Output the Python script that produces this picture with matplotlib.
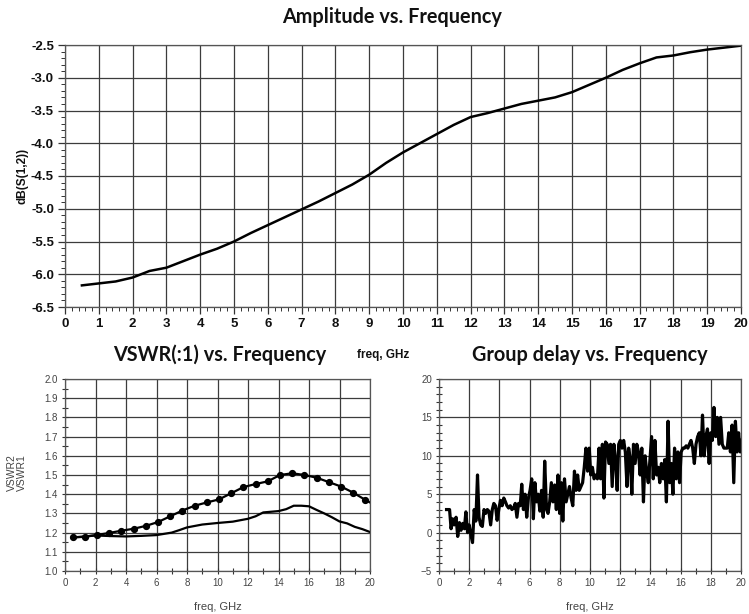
import matplotlib
matplotlib.use('Agg')
import matplotlib.pyplot as plt
from matplotlib.ticker import MultipleLocator

# ---------------- data ----------------
amp_freq = [0.5, 1.0, 1.5, 2.0, 2.5, 3.0, 3.5, 4.0, 4.5, 5.0, 5.5, 6.0, 6.5, 7.0, 7.5,
            8.0, 8.5, 9.0, 9.5, 10.0, 10.5, 11.0, 11.5, 12.0, 12.5, 13.0, 13.5, 14.0,
            14.5, 15.0, 15.5, 16.0, 16.5, 17.0, 17.5, 18.0, 18.5, 19.0, 19.5, 20.0]
amp_db = [-6.17, -6.14, -6.11, -6.05, -5.95, -5.90, -5.80, -5.70, -5.61, -5.50, -5.37,
          -5.25, -5.13, -5.01, -4.89, -4.76, -4.63, -4.48, -4.30, -4.14, -4.00, -3.86,
          -3.72, -3.60, -3.54, -3.47, -3.40, -3.35, -3.30, -3.22, -3.11, -3.00, -2.88,
          -2.78, -2.69, -2.66, -2.61, -2.57, -2.54, -2.51]

vswr2_freq = [0.5, 1.3, 2.1, 2.9, 3.7, 4.5, 5.3, 6.1, 6.9, 7.7, 8.5, 9.3, 10.1, 10.9,
              11.7, 12.5, 13.3, 14.1, 14.9, 15.7, 16.5, 17.3, 18.1, 18.9, 19.7, 20.0]
vswr2 = [1.175, 1.178, 1.188, 1.198, 1.21, 1.22, 1.235, 1.255, 1.285, 1.315, 1.34,
         1.357, 1.373, 1.405, 1.437, 1.453, 1.467, 1.500, 1.509, 1.500, 1.486, 1.463,
         1.440, 1.408, 1.370, 1.357]

vswr1_freq = [0.5, 1, 2, 3, 4, 5, 6, 7, 7.5, 8, 9, 10, 11, 12, 12.5, 13, 14, 14.5, 15,
              15.5, 16, 16.5, 17, 17.5, 18, 18.5, 19, 19.5, 20]
vswr1 = [1.175, 1.178, 1.185, 1.182, 1.180, 1.183, 1.187, 1.200, 1.213, 1.227, 1.242,
         1.250, 1.257, 1.272, 1.285, 1.305, 1.312, 1.322, 1.340, 1.340, 1.337, 1.318,
         1.300, 1.280, 1.258, 1.248, 1.230, 1.218, 1.203]

gd_freq = [0.5, 0.7, 0.8, 0.9, 1.0, 1.13, 1.24, 1.35, 1.46, 1.57, 1.68, 1.78, 1.89, 2.0,
           2.11, 2.22, 2.33, 2.44, 2.55, 2.65, 2.76, 2.87, 2.98, 3.09, 3.2, 3.3, 3.42,
           3.53, 3.63, 3.74, 3.85, 3.96, 4.07, 4.18, 4.29, 4.4, 4.5, 4.61, 4.72, 4.83,
           4.94, 5.05, 5.16, 5.27, 5.38, 5.48, 5.59, 5.7, 5.81, 5.92, 6.03, 6.14, 6.25,
           6.35, 6.46, 6.57, 6.68, 6.79, 6.9, 7.0, 7.12, 7.22, 7.33, 7.44, 7.55, 7.66,
           7.77, 7.88, 7.99, 8.1, 8.2, 8.31, 8.42, 8.53, 8.64, 8.75, 8.86, 8.97, 9.08,
           9.18, 9.29, 9.4, 9.51, 9.62, 9.73, 9.84, 9.95, 10.05, 10.16, 10.27, 10.38,
           10.49, 10.6, 10.7, 10.82, 10.92, 11.03, 11.14, 11.25, 11.36, 11.47, 11.58,
           11.69, 11.8, 11.9, 12.01, 12.12, 12.23, 12.34, 12.45, 12.56, 12.67, 12.77,
           12.88, 12.99, 13.1, 13.21, 13.32, 13.43, 13.54, 13.65, 13.75, 13.86, 13.97,
           14.08, 14.19, 14.3, 14.41, 14.52, 14.62, 14.73, 14.84, 14.95, 15.06, 15.17,
           15.28, 15.38, 15.49, 15.6, 15.71, 15.82, 15.93, 16.04, 16.15, 16.26, 16.37,
           16.48, 16.58, 16.69, 16.8, 16.91, 17.02, 17.13, 17.24, 17.35, 17.45, 17.56,
           17.67, 17.78, 17.89, 18.0, 18.1, 18.21, 18.32, 18.43, 18.54, 18.65, 18.76,
           18.87, 18.98, 19.09, 19.19, 19.3, 19.41, 19.52, 19.63, 19.74, 19.84, 19.95,
           20.0]
gd_val = [3.0, 3.0, 0.5, 1.8, 1.0, 2.0, -0.5, 1.3, 0.3, 1.2, 0.5, 2.7, 0.0, 1.0,
          -0.3, -1.3, 3.0, 1.5, 7.5, 2.0, 1.0, 0.8, 3.0, 2.5, 3.0, 2.8, 1.0,
          3.0, 3.8, 3.5, 1.6, 3.0, 4.2, 3.5, 4.5, 4.0, 3.5, 3.2, 3.5, 3.0,
          3.2, 3.8, 2.0, 3.8, 3.5, 6.3, 3.0, 5.0, 2.0, 4.5, 5.5, 7.0, 1.8,
          6.5, 4.0, 5.0, 2.8, 5.5, 2.0, 9.3, 3.0, 2.5, 4.0, 6.5, 4.0, 6.2,
          3.0, 7.5, 2.5, 6.5, 1.5, 7.0, 4.0, 5.0, 6.0, 4.5, 3.5, 8.0, 5.5,
          7.5, 5.5, 6.0, 6.5, 8.5, 11.0, 8.0, 11.0, 7.5, 8.5, 7.0, 7.5,
          7.0, 11.0, 7.0, 11.5, 4.5, 11.8, 11.5, 9.0, 11.5, 6.0, 11.5,
          9.5, 5.5, 11.5, 12.0, 11.0, 12.0, 10.5, 6.0, 11.0, 9.5, 5.0,
          11.5, 9.0, 11.5, 10.5, 7.5, 11.0, 4.0, 10.0, 8.0, 6.5, 9.5,
          12.5, 7.0, 12.0, 7.5, 8.5, 6.5, 9.0, 7.0, 9.5, 4.0, 14.5,
          6.5, 9.0, 5.0, 11.0, 7.0, 10.5, 6.5, 10.5, 11.0, 11.0, 11.3,
          11.0, 11.5, 12.0, 11.0, 9.0, 11.5, 12.5, 13.0, 10.0, 15.3, 10.0,
          12.5, 13.5, 9.0, 13.0, 12.0, 16.3, 12.5, 15.0, 11.5, 15.0, 11.5,
          11.0, 11.0, 11.0, 13.0, 10.5, 14.0, 6.5, 14.5, 10.5, 13.0, 10.5,
          12.0]

# ---------------- figure ----------------
W, H = 749, 614
fig = plt.figure(figsize=(W / 100, H / 100), dpi=100)
fig.patch.set_facecolor('white')

GRID_C = '#3c3c3c'
TITLE_FONT = dict(family='Lato', weight='bold', size=14.3, color='#111111')


def ax_rect(x0, y0, x1, y1):
    return [x0 / W, 1 - y1 / H, (x1 - x0) / W, (y1 - y0) / H]


def style_axes(ax, tick_fs, tick_weight, tick_color, family):
    for s in ax.spines.values():
        s.set_color('#555555')
        s.set_linewidth(0.9)
    ax.grid(True, which='major', color=GRID_C, linewidth=0.9)
    ax.set_axisbelow(True)
    for lab in ax.get_xticklabels() + ax.get_yticklabels():
        lab.set_fontsize(tick_fs)
        lab.set_fontweight(tick_weight)
        lab.set_color(tick_color)
        lab.set_family(family)


# ---- top: amplitude ----
ax1 = fig.add_axes(ax_rect(65, 45, 741, 307))
ax1.plot(amp_freq, amp_db, color='black', linewidth=1.8)
ax1.set_xlim(0, 20)
ax1.set_ylim(-6.5, -2.5)
ax1.xaxis.set_major_locator(MultipleLocator(1))
ax1.xaxis.set_minor_locator(MultipleLocator(0.2))
ax1.yaxis.set_major_locator(MultipleLocator(0.5))
ax1.yaxis.set_minor_locator(MultipleLocator(0.1))
ax1.yaxis.set_major_formatter(matplotlib.ticker.FormatStrFormatter('%.1f'))
ax1.tick_params(which='major', direction='out', length=5, width=0.9, color='#333333', pad=3)
ax1.tick_params(which='minor', direction='out', length=3, width=0.7, color='#333333')
style_axes(ax1, 9.5, 'bold', '#111111', 'Liberation Sans')
ax1.set_ylabel('dB(S(1,2))', fontsize=8.5, fontweight='bold', family='Liberation Sans',
               color='#111111', labelpad=2)
fig.text(383 / W, 1 - 355 / H, 'freq, GHz', ha='center', va='center', fontsize=8.5,
         fontweight='bold', family='Liberation Sans', color='#111111')
fig.text(392 / W, 1 - 17 / H, 'Amplitude vs. Frequency', ha='center', va='center', **TITLE_FONT)

# ---- bottom left: VSWR ----
ax2 = fig.add_axes(ax_rect(65, 379, 370, 571))
ax2.plot(vswr2_freq, vswr2, color='black', linewidth=1.6, marker='o', markersize=4.2,
         markevery=list(range(len(vswr2_freq) - 1)))
ax2.plot(vswr1_freq, vswr1, color='black', linewidth=1.6)
ax2.set_xlim(0, 20)
ax2.set_ylim(1.0, 2.0)
ax2.xaxis.set_major_locator(MultipleLocator(2))
ax2.xaxis.set_minor_locator(MultipleLocator(1))
ax2.yaxis.set_major_locator(MultipleLocator(0.1))
ax2.yaxis.set_minor_locator(MultipleLocator(0.05))
ax2.yaxis.set_major_formatter(matplotlib.ticker.FormatStrFormatter('%.1f'))
ax2.tick_params(which='major', direction='inout', length=4, width=0.8, color='#333333', pad=3)
ax2.tick_params(which='minor', direction='inout', length=4, width=0.8, color='#333333')
style_axes(ax2, 7, 'normal', '#444444', 'Liberation Sans')
fig.text(12 / W, 1 - 473 / H, 'VSWR2', rotation=90, ha='center', va='center', fontsize=7.5,
         family='Liberation Sans', color='#444444')
fig.text(22 / W, 1 - 473 / H, 'VSWR1', rotation=90, ha='center', va='center', fontsize=7.5,
         family='Liberation Sans', color='#444444')
fig.text(218 / W, 1 - 607 / H, 'freq, GHz', ha='center', va='center', fontsize=8,
         family='Liberation Sans', color='#444444')
fig.text(220 / W, 1 - 355 / H, 'VSWR(:1) vs. Frequency', ha='center', va='center', **TITLE_FONT)

# ---- bottom right: group delay ----
ax3 = fig.add_axes(ax_rect(439, 379, 741, 571))
ax3.plot(gd_freq, gd_val, color='black', linewidth=2.3)
ax3.set_xlim(0, 20)
ax3.set_ylim(-5, 20)
ax3.xaxis.set_major_locator(MultipleLocator(2))
ax3.xaxis.set_minor_locator(MultipleLocator(1))
ax3.yaxis.set_major_locator(MultipleLocator(5))
ax3.yaxis.set_minor_locator(MultipleLocator(1))
ax3.tick_params(which='major', direction='inout', length=4, width=0.8, color='#333333', pad=3)
ax3.tick_params(which='minor', direction='inout', length=4, width=0.8, color='#333333')
style_axes(ax3, 7, 'normal', '#444444', 'Liberation Sans')
fig.text(590 / W, 1 - 607 / H, 'freq, GHz', ha='center', va='center', fontsize=8,
         family='Liberation Sans', color='#444444')
fig.text(590 / W, 1 - 355 / H, 'Group delay vs. Frequency', ha='center', va='center', **TITLE_FONT)

fig.savefig('out.png', dpi=100, facecolor='white')
